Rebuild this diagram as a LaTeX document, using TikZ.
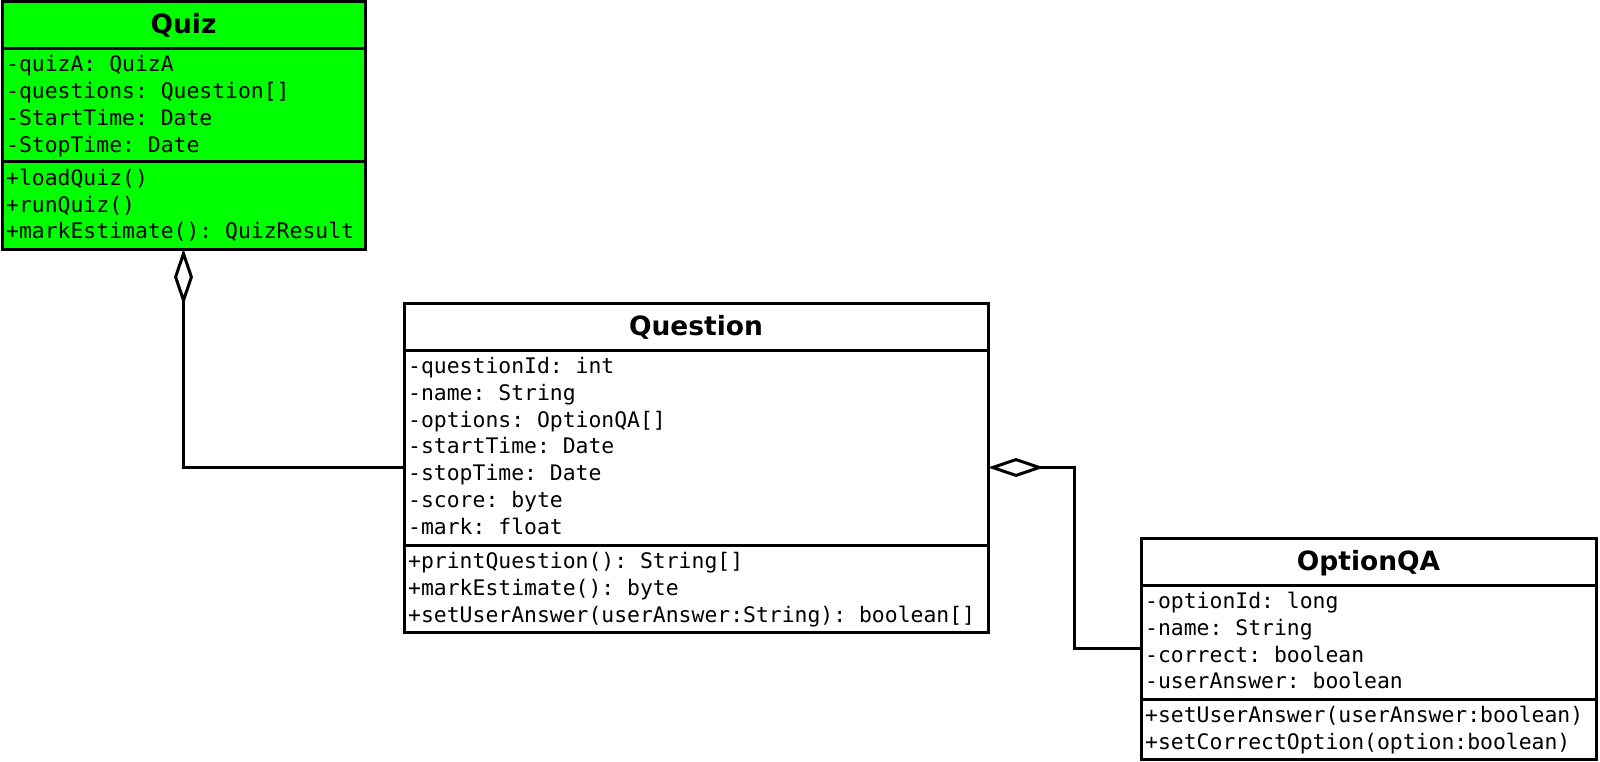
\documentclass[tikz,border=0pt]{standalone}
\usepackage{fontspec}
\setmainfont{DejaVu Sans}
\setmonofont{DejaVu Sans Mono}
\usetikzlibrary{arrows.meta}
\definecolor{classgreen}{HTML}{00FF00}
\begin{document}
\begin{tikzpicture}[x=1pt,y=-1pt,
  classbox/.style={draw, line width=3pt, inner sep=0pt, outer sep=0pt, anchor=north west},
  classname/.style={font=\fontsize{26.5}{30}\selectfont\bfseries, anchor=base, inner sep=0pt},
  member/.style={font=\fontsize{21.4}{26.8}\selectfont\ttfamily, anchor=base west, inner sep=0pt},
  divider/.style={line width=3pt},
  aggr/.style={line width=3pt, -{Diamond[open, length=56pt, width=19pt]}},
]
\useasboundingbox (0,0) rectangle (1600,762);

% ---- Quiz ----
\node[classbox, fill=classgreen, minimum width=363pt, minimum height=247pt] (quiz) at (2,2) {};
\node[classname] (quizname) at (183.5,33.5) {Quiz};
\draw[divider] (quiz.west |- 0,48.5) -- (quiz.east |- 0,48.5);
\draw[divider] (quiz.west |- 0,162) -- (quiz.east |- 0,162);
\foreach \t [count=\i from 0] in {{-quizA: QuizA},{-questions: Question[]},{-StartTime: Date},{-StopTime: Date}}
  \node[member] (quiza\i) at (6,72+26.8*\i) {\t};
\foreach \t [count=\i from 0] in {{+loadQuiz()},{+runQuiz()},{+markEstimate(): QuizResult}}
  \node[member] (quizm\i) at (6,185.3+26.8*\i) {\t};

% ---- Question ----
\node[classbox, fill=white, minimum width=584pt, minimum height=329pt] (question) at (404,303) {};
\node[classname] (questionname) at (696,335) {Question};
\draw[divider] (question.west |- 0,350) -- (question.east |- 0,350);
\draw[divider] (question.west |- 0,545) -- (question.east |- 0,545);
\foreach \t [count=\i from 0] in {{-questionId: int},{-name: String},{-options: OptionQA[]},{-startTime: Date},{-stopTime: Date},{-score: byte},{-mark: float}}
  \node[member] (questiona\i) at (408,373.5+26.8*\i) {\t};
\foreach \t [count=\i from 0] in {{+printQuestion(): String[]},{+markEstimate(): byte},{+setUserAnswer(userAnswer:String): boolean[]}}
  \node[member] (questionm\i) at (408,568.5+26.8*\i) {\t};

% ---- OptionQA ----
\node[classbox, fill=white, minimum width=455pt, minimum height=221pt] (option) at (1141,538) {};
\node[classname] (optionname) at (1368.5,570) {OptionQA};
\draw[divider] (option.west |- 0,585) -- (option.east |- 0,585);
\draw[divider] (option.west |- 0,699) -- (option.east |- 0,699);
\foreach \t [count=\i from 0] in {{-optionId: long},{-name: String},{-correct: boolean},{-userAnswer: boolean}}
  \node[member] (optiona\i) at (1145,608.5+26.8*\i) {\t};
\foreach \t [count=\i from 0] in {{+setUserAnswer(userAnswer:boolean)},{+setCorrectOption(option:boolean)}}
  \node[member] (optionm\i) at (1145,722.5+26.8*\i) {\t};

% ---- aggregations ----
\coordinate (bend) at (1074,0);
\draw[aggr] (question.west) -| (quiz.south);
\draw[aggr] (option.west) -| (bend |- option.west) |- (question.east);
\end{tikzpicture}
\end{document}
